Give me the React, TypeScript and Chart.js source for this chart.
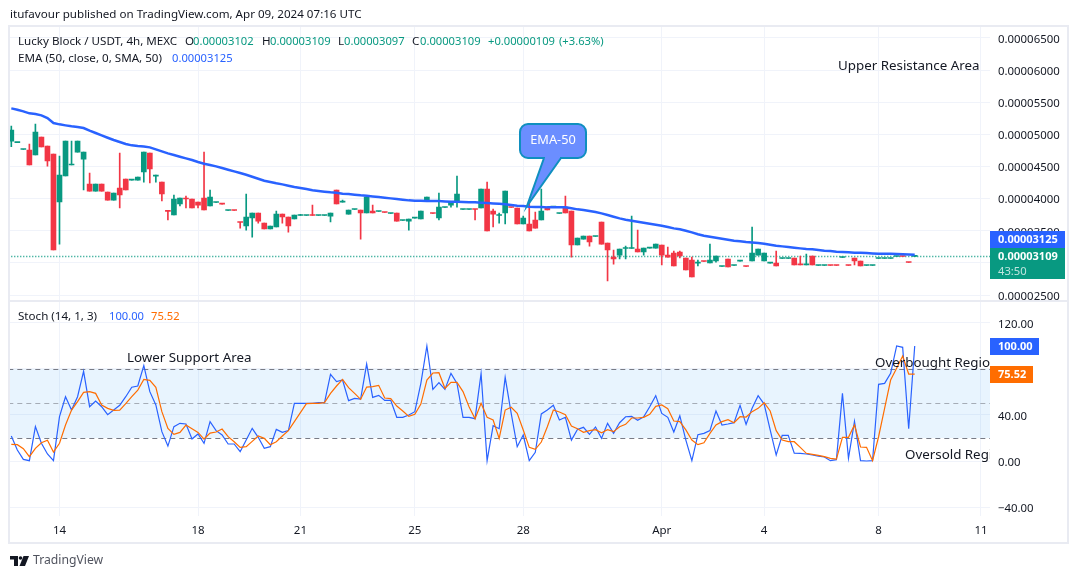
import { useEffect, useRef } from 'react';
import Chart from 'chart.js/auto';

// prices are in units of 0.00000001
const opens = [
  4896, 4872, 4765, 4756, 4679, 4959, 4819, 4694, 3947, 4352,
  4523, 4725, 4616, 4227, 4118, 4227, 4103, 3978, 4165, 4305,
  4287, 4289, 4414, 4710, 4350, 4258, 3817, 3745, 3916, 4009,
  3994, 3947, 4009, 3885, 3940, 3918, 3815, 3819, 3633, 3574,
  3698, 3776, 3620, 3527, 3558, 3760, 3714, 3683, 3738, 3738,
  3742, 3738, 3738, 3729, 4134, 3945, 3760, 3831, 3823, 3776,
  3807, 3800, 3788, 3769, 3776, 3660, 3651, 3696, 3683, 3978,
  3773, 3698, 3862, 3900, 3947, 3831, 3831, 3835, 3854, 4149,
  3807, 3738, 3776, 3866, 3854, 3605, 3605, 3667, 3667, 3869,
  3867, 3769, 3869, 3807, 3278, 3371, 3418, 3411, 3636, 3309,
  3091, 3122, 3224, 3224, 3216, 3169, 3229, 3231, 3278, 3122,
  3153, 3169, 3076, 3044, 2996, 3026, 2998, 3029, 2944, 3060,
  2960, 3027, 2948, 3029, 3122, 3029, 2996, 2998, 3068, 3068,
  3076, 2974, 2970, 3107, 2960, 2960, 2964, 2964, 3084, 2964,
  3076, 3029, 2960, 2960, 3068, 3068, 3068, 3100, 3104, 3010,
  3102,
];
const closes = [
  5068, 4876, 4769, 4523, 5037, 4803, 4585, 3200, 4367, 4896,
  4538, 4896, 4725, 4118, 4227, 4118, 3978, 4087, 4056, 4134,
  4291, 4336, 4725, 4461, 4354, 4072, 3802, 3994, 4009, 3994,
  3854, 3900, 3823, 4025, 3944, 3914, 3819, 3815, 3629, 3714,
  3776, 3651, 3527, 3574, 3760, 3714, 3574, 3745, 3742, 3742,
  3738, 3742, 3742, 3776, 3916, 3949, 3823, 3835, 3776, 4025,
  3776, 3804, 3784, 3773, 3651, 3664, 3683, 3700, 3807, 4025,
  3769, 3869, 3866, 3957, 4072, 3835, 3835, 3831, 4149, 3496,
  3760, 3742, 4118, 3862, 3605, 3698, 3496, 3542, 3807, 3823,
  3871, 3773, 3776, 3278, 3387, 3418, 3325, 3415, 3293, 3200,
  3060, 3216, 3228, 3228, 3169, 3231, 3233, 3293, 3122, 3091,
  2951, 3107, 2889, 2780, 3000, 3022, 3044, 3107, 2948, 2936,
  2964, 3031, 2944, 3153, 3216, 3153, 3000, 2951, 3072, 3072,
  2967, 2970, 2974, 2967, 2964, 2964, 2960, 2960, 3088, 2960,
  3029, 2951, 2964, 2964, 3072, 3072, 3072, 3104, 3100, 3006,
  3109,
];
const highs = [
  5130, 4876, 4769, 4850, 5161, 4959, 4819, 4694, 4663, 4896,
  4896, 4896, 4725, 4398, 4227, 4227, 4103, 4087, 4710, 4305,
  4291, 4336, 4725, 4710, 4367, 4258, 3817, 4056, 4009, 4040,
  3994, 3947, 4725, 4134, 3944, 3918, 3819, 3819, 3633, 4072,
  3776, 3776, 3620, 3574, 3807, 3760, 3714, 3745, 3755, 3742,
  3900, 3742, 3742, 3776, 4134, 3978, 3823, 3835, 3823, 4025,
  3900, 3804, 3788, 3773, 3776, 3664, 3683, 3700, 3807, 4025,
  3773, 4087, 3866, 3957, 4352, 3835, 3835, 3835, 4149, 4258,
  3838, 3776, 4118, 3866, 3854, 3729, 3947, 3791, 4149, 3869,
  3871, 3773, 4040, 3807, 3387, 3418, 3418, 3415, 3636, 3309,
  3200, 3216, 3262, 3729, 3511, 3231, 3233, 3293, 3278, 3247,
  3184, 3184, 3076, 3091, 3044, 3026, 3294, 3107, 2948, 3060,
  2964, 3031, 2948, 3558, 3216, 3153, 3000, 3185, 3072, 3072,
  3076, 3107, 3138, 3107, 2964, 2964, 2964, 2964, 3088, 2964,
  3076, 3029, 2964, 2964, 3072, 3072, 3072, 3104, 3104, 3010,
  3109,
];
const lows = [
  4808, 4872, 4765, 4523, 4679, 4803, 4507, 3200, 3293, 4352,
  4523, 4725, 4134, 4118, 4118, 4118, 3978, 3978, 3854, 4134,
  4287, 4289, 4258, 4243, 4258, 3963, 3667, 3745, 3885, 3854,
  3854, 3854, 3823, 3885, 3940, 3914, 3815, 3815, 3542, 3511,
  3402, 3620, 3527, 3527, 3558, 3620, 3480, 3683, 3738, 3738,
  3738, 3738, 3738, 3636, 3916, 3945, 3760, 3831, 3371, 3776,
  3776, 3800, 3784, 3769, 3651, 3660, 3511, 3696, 3683, 3978,
  3769, 3667, 3862, 3869, 3869, 3831, 3831, 3667, 3854, 3496,
  3558, 3620, 3605, 3862, 3605, 3605, 3496, 3542, 3667, 3823,
  3867, 3769, 3776, 3091, 3278, 3371, 3262, 3411, 3293, 2718,
  2982, 3060, 3060, 3224, 3169, 3122, 3229, 3231, 2967, 3091,
  2951, 3076, 2889, 2780, 2951, 3022, 2998, 3013, 2944, 2936,
  2960, 3027, 2944, 3029, 3122, 3029, 2996, 2951, 3068, 3068,
  2967, 2970, 2970, 2967, 2960, 2960, 2960, 2960, 3084, 2960,
  2967, 2951, 2960, 2960, 3068, 3068, 3068, 3100, 3100, 3006,
  3097,
];
const ema50 = [
  5405, 5384, 5358, 5327, 5317, 5296, 5254, 5177, 5156, 5140,
  5125, 5114, 5099, 5057, 5021, 4985, 4948, 4912, 4881, 4850,
  4829, 4819, 4813, 4798, 4767, 4736, 4705, 4679, 4653, 4627,
  4601, 4570, 4544, 4523, 4502, 4476, 4450, 4424, 4398, 4372,
  4341, 4310, 4279, 4258, 4238, 4222, 4201, 4181, 4165, 4149,
  4129, 4118, 4108, 4098, 4092, 4077, 4072, 4061, 4051, 4046,
  4035, 4025, 4015, 4004, 3994, 3983, 3973, 3968, 3968, 3963,
  3963, 3963, 3957, 3952, 3952, 3947, 3942, 3942, 3937, 3932,
  3926, 3921, 3911, 3900, 3890, 3885, 3875, 3869, 3869, 3864,
  3864, 3864, 3864, 3849, 3833, 3823, 3807, 3791, 3771, 3745,
  3719, 3693, 3672, 3657, 3641, 3625, 3610, 3594, 3579, 3558,
  3537, 3522, 3501, 3475, 3445, 3423, 3408, 3392, 3377, 3361,
  3345, 3335, 3325, 3319, 3309, 3299, 3283, 3268, 3257, 3247,
  3236, 3226, 3216, 3211, 3200, 3190, 3185, 3174, 3169, 3164,
  3159, 3159, 3153, 3148, 3143, 3143, 3143, 3140, 3134, 3130,
  3125,
];
const stochK = [
  21.7, 9.6, 1.4, 0.3, 29.9, 15.4, 6.1, 0.3, 38.6, 55.9,
  44.3, 55.9, 78, 47.2, 52.2, 47.2, 40.3, 44.3, 48.4, 55.9,
  64.1, 65.2, 82.9, 60.3, 48.7, 25.5, 13, 29.9, 32.8, 32.2,
  19.1, 23.5, 15.4, 34.2, 26.4, 22.6, 14.8, 14.8, 8.1, 18.3,
  28.4, 20.6, 11, 12.5, 27.5, 24.9, 26.4, 50.1, 50.1, 50.1,
  50.1, 50.7, 50.7, 75.4, 69, 70.4, 52.5, 54.5, 53.9, 84.3,
  55.3, 57.1, 52.7, 52.7, 38, 38, 40, 42.9, 67.5, 100,
  62.3, 68.1, 62.3, 76.2, 67.5, 38, 38, 36.8, 76.2, 0.3,
  30.7, 28.1, 72.7, 41.4, 12.4, 22.6, 0.3, 7.5, 40.9, 44.3,
  48.4, 35.6, 38, 18.2, 27.5, 29.3, 23.2, 29.6, 19.7, 32.7,
  24, 33.3, 38.5, 38.8, 35.4, 38.5, 47.2, 56.8, 41.4, 38,
  25.2, 39.4, 18.2, 0.3, 22.9, 24, 26.4, 43.5, 31.3, 32.2,
  33.3, 48.4, 31.9, 45.8, 56.8, 49.5, 27, 5.2, 22.3, 22.3,
  6.9, 6.7, 6.1, 5.2, 4.3, 3.5, 0.3, 1.2, 58.8, 2.3,
  34.5, 0.3, 0, 0.3, 66.7, 67.5, 76.2, 100, 98.8, 28.1,
  100,
];
const stochD = [
  14.5, 14.2, 10.7, 3.8, 11, 15.9, 18, 7.8, 15.4, 31.3,
  44.3, 51.6, 59.7, 60.3, 58.8, 48.7, 45.8, 44.1, 44.3, 49.9,
  55.9, 61.7, 71, 70.1, 64.1, 42.9, 28.4, 23.2, 24.9, 31.3,
  28.1, 24.9, 19.1, 24.3, 25.2, 27.8, 21.2, 16.8, 11.9, 12.5,
  17.1, 21.7, 19.7, 14.2, 16.8, 21.7, 26.4, 34.2, 42, 49.9,
  50.1, 50.1, 50.7, 58.8, 65.2, 71, 63.8, 58.8, 53.6, 64.3,
  64.6, 65.8, 54.8, 54.2, 47.8, 43.5, 38.8, 40.6, 49.5, 70.4,
  76.5, 76.8, 63.2, 68.4, 68.4, 60.3, 47.2, 36.8, 50.1, 38,
  35.6, 19.7, 44.3, 46.7, 41.4, 27, 11.9, 10.1, 16.5, 29.8,
  44.3, 42.6, 40.3, 30.4, 28.1, 24.9, 26.4, 27.2, 24.6, 27.2,
  25.5, 29.8, 31.9, 37.4, 37.4, 38, 40.6, 47.5, 48.7, 45.5,
  34.8, 34.2, 27, 18.2, 14.2, 15.9, 24, 31.3, 34.2, 35.9,
  33.3, 38.5, 38.2, 42.9, 45.8, 50.7, 43.5, 26.4, 18.2, 16.8,
  16.8, 11.9, 6.7, 5.8, 4.9, 3.8, 2.3, 1.7, 20.6, 20.6,
  31.3, 12.2, 11.9, 0.3, 21.1, 45.8, 70.4, 80.6, 91.3, 75.6,
  75.52,
];

const dayBars = [8, 31, 48, 67, 85, 108, 125, 144, 161];
const dayLabels = ['14', '18', '21', '25', '28', 'Apr', '4', '8', '11'];
const priceTicks = [6500, 6000, 5500, 5000, 4500, 4000, 3500, 3000, 2500];
const stochTicks = [120, 80, 40, 0, -40];
const stochLevels = [80, 50, 20];
const lastPrice = 3109;
const barSlots = 163;

const UP = '#089981';
const DOWN = '#f23645';
const BLUE = '#2962ff';
const ORANGE = '#ff6d00';
const INK = '#131722';
const GRID = '#f0f3fa';
const FRAME = '#e9ebf2';
const FONT = '"Noto Sans"';
const PROSE = `11.6px ${FONT}`;
const DIGITS = `11.2px ${FONT}`;

const labels = Array.from({ length: barSlots }, (_, i) => {
  const at = dayBars.indexOf(i);
  return at >= 0 ? dayLabels[at] : '';
});
const candleColors = closes.map((c, i) => (c >= opens[i] ? UP : DOWN));

const text = (ctx: any, str: string, x: number, y: number, color = INK, font = PROSE, align = 'left') => {
  ctx.fillStyle = color;
  ctx.font = font;
  ctx.textAlign = align;
  ctx.textBaseline = 'middle';
  ctx.fillText(str, x, y + 1);
};

const levelsPlugin = {
  id: 'levels',
  beforeDatasetsDraw(chart: any) {
    const { ctx, chartArea, scales } = chart;
    const { left, right } = chartArea;
    const top = scales.y2.getPixelForValue(stochLevels[0]);
    const bottom = scales.y2.getPixelForValue(stochLevels[2]);
    ctx.save();
    ctx.fillStyle = 'rgba(33,150,243,0.1)';
    ctx.fillRect(left, top, right - left, bottom - top);
    ctx.lineWidth = 1;
    ctx.setLineDash([5, 4]);
    stochLevels.forEach((level, i) => {
      const y = Math.round(scales.y2.getPixelForValue(level)) + 0.5;
      ctx.strokeStyle = i === 1 ? 'rgba(120,123,134,0.6)' : '#787b86';
      ctx.beginPath();
      ctx.moveTo(left, y);
      ctx.lineTo(right, y);
      ctx.stroke();
    });
    const py = Math.round(scales.y.getPixelForValue(lastPrice)) + 0.5;
    ctx.setLineDash([1, 2]);
    ctx.lineWidth = 1.3;
    ctx.strokeStyle = UP;
    ctx.beginPath();
    ctx.moveTo(left, py);
    ctx.lineTo(right, py);
    ctx.stroke();
    ctx.restore();
  },
};

const overlayPlugin = {
  id: 'overlay',
  afterDraw(chart: any) {
    const { ctx, chartArea } = chart;
    ctx.save();

    // frame and pane separator
    ctx.strokeStyle = FRAME;
    ctx.lineWidth = 2;
    ctx.strokeRect(9, 26, 1059, 517);
    ctx.beginPath();
    ctx.moveTo(9, 301);
    ctx.lineTo(1068, 301);
    ctx.stroke();

    // header texts
    text(ctx, 'itufavour published on TradingView.com, Apr 09, 2024 07:16 UTC', 10, 14);
    text(ctx, 'Lucky Block / USDT, 4h, MEXC', 18, 41);
    text(ctx, 'O', 185, 41);
    text(ctx, '0.00003102', 193, 41, UP, DIGITS);
    text(ctx, 'H', 262, 41);
    text(ctx, '0.00003109', 270, 41, UP, DIGITS);
    text(ctx, 'L', 338, 41);
    text(ctx, '0.00003097', 344, 41, UP, DIGITS);
    text(ctx, 'C', 412, 41);
    text(ctx, '0.00003109', 420, 41, UP, DIGITS);
    text(ctx, '+0.00000109', 488, 41, UP, DIGITS);
    text(ctx, '(+3.63%)', 559, 41, UP, DIGITS);
    text(ctx, 'EMA (50, close, 0, SMA, 50)', 18, 58);
    text(ctx, '0.00003125', 172, 58, BLUE, DIGITS);
    text(ctx, 'Stoch (14, 1, 3)', 18, 316);
    text(ctx, '100.00', 109, 316, BLUE, DIGITS);
    text(ctx, '75.52', 151, 316, ORANGE, DIGITS);

    // hand-drawn notes on the chart, cut at the price scale
    ctx.save();
    ctx.beginPath();
    ctx.rect(chartArea.left, chartArea.top, chartArea.right - chartArea.left, chartArea.bottom - chartArea.top);
    ctx.clip();
    const note = `13.35px ${FONT}`;
    text(ctx, 'Upper Resistance Area', 838, 65, INK, note);
    text(ctx, 'Lower Support Area', 127, 357, INK, note);
    text(ctx, 'Overbought Region', 875, 362, INK, note);
    text(ctx, 'Oversold Region', 905, 454, INK, note);
    ctx.restore();

    // EMA-50 balloon
    ctx.beginPath();
    ctx.moveTo(528, 158);
    ctx.roundRect(520, 124, 66, 34, 8);
    ctx.fillStyle = '#6b8eff';
    ctx.fill();
    ctx.strokeStyle = '#0f8fbf';
    ctx.lineWidth = 2;
    ctx.stroke();
    ctx.beginPath();
    ctx.moveTo(544, 158);
    ctx.lineTo(527, 206);
    ctx.lineTo(561, 158);
    ctx.closePath();
    ctx.fillStyle = '#6b8eff';
    ctx.fill();
    ctx.beginPath();
    ctx.moveTo(544, 158);
    ctx.lineTo(527, 206);
    ctx.lineTo(561, 158);
    ctx.stroke();
    ctx.fillStyle = '#6b8eff';
    ctx.fillRect(545, 155, 15, 3);
    text(ctx, 'EMA-50', 553, 139.5, '#ffffff', `12.8px ${FONT}`, 'center');

    // price scale tags
    const bold = `bold 11px ${FONT}`;
    ctx.fillStyle = BLUE;
    ctx.fillRect(990, 231, 75, 17);
    text(ctx, '0.00003125', 998, 239, '#ffffff', bold);
    ctx.fillStyle = UP;
    ctx.fillRect(990, 248, 75, 31);
    text(ctx, '0.00003109', 998, 255.5, '#ffffff', bold);
    text(ctx, '43:50', 998, 270.5, 'rgba(255,255,255,0.75)', DIGITS);
    ctx.fillStyle = BLUE;
    ctx.fillRect(990, 338, 49, 17);
    text(ctx, '100.00', 998, 346, '#ffffff', bold);
    ctx.fillStyle = ORANGE;
    ctx.fillRect(990, 366, 43, 17);
    text(ctx, '75.52', 998, 374, '#ffffff', bold);

    // TradingView logo
    ctx.fillStyle = INK;
    ctx.fillRect(10, 556, 8, 3.5);
    ctx.fillRect(14, 556, 4, 10);
    ctx.beginPath();
    ctx.arc(20.5, 558, 1.8, 0, Math.PI * 2);
    ctx.fill();
    ctx.beginPath();
    ctx.moveTo(23.5, 556);
    ctx.lineTo(29, 556);
    ctx.lineTo(25, 566);
    ctx.lineTo(19.5, 566);
    ctx.closePath();
    ctx.fill();
    text(ctx, 'TradingView', 33, 560, '#50535e', `12.2px ${FONT}`);
    ctx.restore();
  },
};

export default function App() {
  const canvasRef = useRef<HTMLCanvasElement>(null);

  useEffect(() => {
    if (!canvasRef.current) return;
    const chart = new Chart(canvasRef.current, {
      type: 'bar',
      data: {
        labels,
        datasets: [
          {
            type: 'line',
            label: 'EMA 50',
            data: ema50,
            yAxisID: 'y',
            borderColor: BLUE,
            borderWidth: 2.5,
            pointRadius: 0,
            order: 0,
          },
          {
            type: 'line',
            label: '%D',
            data: stochD,
            yAxisID: 'y2',
            borderColor: ORANGE,
            borderWidth: 1.2,
            pointRadius: 0,
            order: 0,
          },
          {
            type: 'line',
            label: '%K',
            data: stochK,
            yAxisID: 'y2',
            borderColor: BLUE,
            borderWidth: 1.2,
            pointRadius: 0,
            order: 1,
          },
          {
            label: 'Body',
            data: opens.map((o, i) => [o, closes[i]]),
            yAxisID: 'y',
            backgroundColor: candleColors,
            barThickness: 5,
            minBarLength: 1,
            grouped: false,
            order: 2,
          },
          {
            label: 'Wick',
            data: lows.map((l, i) => [l, highs[i]]),
            yAxisID: 'y',
            backgroundColor: candleColors,
            barThickness: 1,
            grouped: false,
            order: 3,
          },
        ],
      } as any,
      options: {
        animation: false,
        responsive: false,
        devicePixelRatio: 1,
        layout: { padding: { left: 8.3, right: 12, top: 27, bottom: 36 } },
        plugins: { legend: { display: false }, tooltip: { enabled: false } },
        scales: {
          x: {
            type: 'category',
            offset: true,
            afterBuildTicks: (scale: any) => {
              scale.ticks = dayBars.map((value) => ({ value }));
            },
            afterFit: (scale: any) => {
              scale.height = 27;
            },
            grid: { color: GRID, drawTicks: false, offset: false },
            border: { display: false },
            ticks: {
              autoSkip: false,
              maxRotation: 0,
              padding: 8,
              color: INK,
              font: { family: FONT, size: 11.5 },
            },
          },
          y: {
            type: 'linear',
            position: 'right',
            stack: 'panes',
            stackWeight: 274,
            min: 2407,
            max: 6671,
            afterBuildTicks: (scale: any) => {
              scale.ticks = priceTicks.map((value) => ({ value }));
            },
            afterFit: (scale: any) => {
              scale.width = 78;
            },
            grid: { color: GRID, drawTicks: false },
            border: { display: false },
            ticks: {
              padding: 8,
              labelOffset: 1.5,
              color: INK,
              font: { family: FONT, size: 11.4 },
              callback: (v: any) => (v / 1e8).toFixed(8),
            },
          },
          y2: {
            type: 'linear',
            position: 'right',
            stack: 'panes',
            stackWeight: 215,
            min: -47.8,
            max: 139.1,
            afterBuildTicks: (scale: any) => {
              scale.ticks = stochTicks.map((value) => ({ value }));
            },
            afterFit: (scale: any) => {
              scale.width = 78;
            },
            grid: { color: GRID, drawTicks: false },
            border: { display: false },
            ticks: {
              padding: 8,
              labelOffset: 1.5,
              color: INK,
              font: { family: FONT, size: 11.4 },
              callback: (v: any) => v.toFixed(2).replace('-', '\u2212'),
            },
          },
        },
      } as any,
      plugins: [levelsPlugin, overlayPlugin],
    });
    return () => chart.destroy();
  }, []);

  return (
    <div style={{ position: 'absolute', left: 0, top: 0, width: 1080, height: 579, background: '#fff' }}>
      <canvas ref={canvasRef} width={1080} height={579} />
    </div>
  );
}
